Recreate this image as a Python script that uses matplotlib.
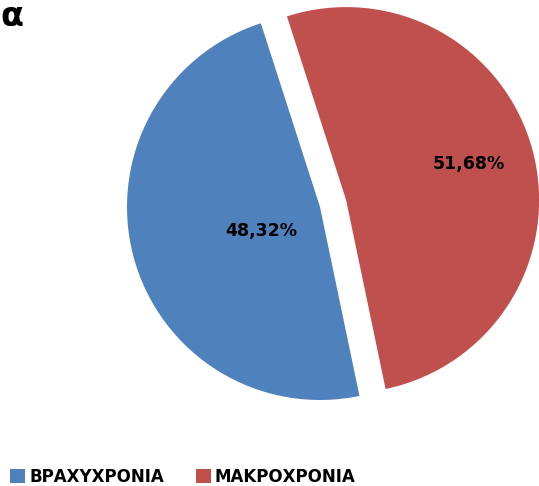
import matplotlib.pyplot as plt
import numpy as np

# data
labels = ['ΒΡΑΧΥΧΡΟΝΙΑ', 'ΜΑΚΡΟΧΡΟΝΙΑ']
shares = [48.32, 51.68]
colors = ['#4F81BD', '#C0504D']
explode = [0.0, 0.14]
# Excel "best fit" spots each label differently
label_dist = [0.33, 0.66]
label_turn = [7.0, 1.5]

plt.rcParams['font.family'] = ['DejaVu Sans']

fig = plt.figure(figsize=(5.39, 4.86), dpi=100)
ax = fig.add_axes([0, 0, 1, 1])

wedges, _, autotexts = ax.pie(
    shares, colors=colors, explode=explode, startangle=-78.2,
    counterclock=False, radius=1.0,
    autopct=lambda p: f'{p:.2f}%'.replace('.', ','),
    wedgeprops={'linewidth': 0},
    shadow={'ox': 2.5, 'oy': -2.5, 'facecolor': '#9a9a9a',
            'edgecolor': 'none', 'alpha': 0.35},
    textprops={'fontsize': 12.5, 'fontweight': 'bold', 'color': 'black'},
)

# move the percentage labels to where Excel put them
for w, t, d, turn in zip(wedges, autotexts, label_dist, label_turn):
    mid = np.deg2rad((w.theta1 + w.theta2) / 2 + turn)
    cx, cy = w.center
    t.set_position((cx + d * np.cos(mid), cy + d * np.sin(mid)))

# pixel mapping: pie radius = 193 px, blue centre at (320, 207) px
R = 193.0
ax.set_xlim(-320 / R, (539 - 320) / R)
ax.set_ylim(-(486 - 207) / R, 207 / R)
ax.set_aspect('auto')
ax.axis('off')

fig.text(0.0, 1.0, 'α', fontsize=24, fontweight='bold',
         ha='left', va='top')

fig.legend(wedges, labels, loc='lower left',
           bbox_to_anchor=(10 / 539, 0.0),
           ncol=2, frameon=False, borderpad=0, borderaxespad=0,
           handlelength=0.9, handleheight=0.9,
           handletextpad=0.25, columnspacing=1.9,
           prop={'size': 12, 'weight': 'bold'})

fig.savefig('out.png', dpi=100)
